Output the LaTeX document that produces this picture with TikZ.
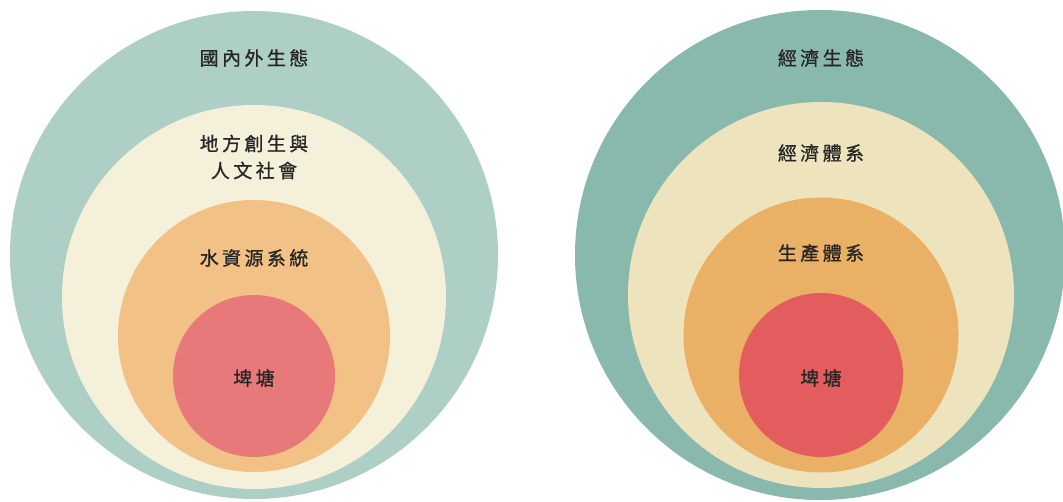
\documentclass[tikz,border=0pt]{standalone}
\usepackage{fontspec}
\setmainfont{Noto Sans CJK TC}[LetterSpace=18,FakeBold=0.9]
\definecolor{ecoL}{HTML}{AECFC6}
\definecolor{socL}{HTML}{F5F0DA}
\definecolor{waterL}{HTML}{F2C185}
\definecolor{pondL}{HTML}{E8797B}
\definecolor{ecoR}{HTML}{89B8AD}
\definecolor{econR}{HTML}{EDE4BE}
\definecolor{prodR}{HTML}{EAB065}
\definecolor{pondR}{HTML}{E35D5E}
\begin{document}
\begin{tikzpicture}[x=1pt,y=-1pt,font=\fontsize{19}{27}\selectfont]
	\tikzset{lbl/.style={align=center,text=black!85,inner sep=0pt}}
	\useasboundingbox[fill=white] (0,0) rectangle (1063,502);
	% left rings
	\fill[ecoL] (254,255) circle (244);
	\fill[socL] (254,297) circle (192);
	\fill[waterL] (254,336) circle (136);
	\fill[pondL] (254,376) circle (81);
	% right rings
	\fill[ecoR] (820,255) circle (245);
	\fill[econR] (821,295) circle (193);
	\fill[prodR] (821,335) circle (137.5);
	\fill[pondR] (821,375) circle (82);
	% labels
	\node[lbl] (ecoLt) at (254,58) {國內外生態};
	\node[lbl] (socLt) at (254,157) {地方創生與\\人文社會};
	\node[lbl] (waterLt) at (254,258) {水資源系統};
	\node[lbl] (pondLt) at (254,378) {埤塘};
	\node[lbl] (ecoRt) at (821,58) {經濟生態};
	\node[lbl] (econRt) at (821,153) {經濟體系};
	\node[lbl] (prodRt) at (821,253) {生產體系};
	\node[lbl] (pondRt) at (821,378) {埤塘};
\end{tikzpicture}
\end{document}
